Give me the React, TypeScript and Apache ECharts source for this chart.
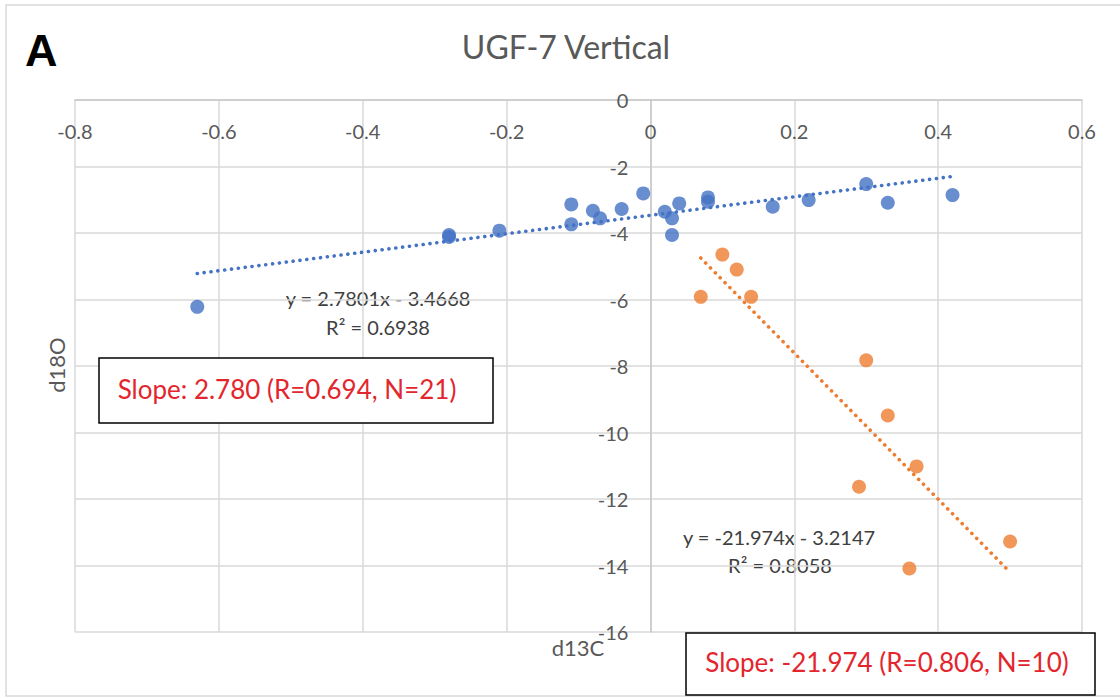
import React, { useEffect, useRef } from "react";
import * as echarts from "echarts";

// d13C / d18O measurements, two groups
const blueX = [-0.63, -0.28, -0.28, -0.21, -0.11, -0.11, -0.08, -0.07, -0.04, -0.01, 0.02, 0.03, 0.03, 0.04, 0.08, 0.08, 0.17, 0.22, 0.3, 0.33, 0.42];
const blueY = [-6.22, -4.06, -4.12, -3.93, -3.14, -3.74, -3.33, -3.56, -3.28, -2.81, -3.36, -3.56, -4.06, -3.11, -2.93, -3.06, -3.21, -3.01, -2.53, -3.09, -2.86];
const orangeX = [0.07, 0.1, 0.12, 0.14, 0.3, 0.33, 0.37, 0.29, 0.5, 0.36];
const orangeY = [-5.92, -4.65, -5.1, -5.92, -7.83, -9.49, -11.02, -11.63, -13.28, -14.09];

// linear fits (slope, intercept, R²) for the two groups
const fitSlopes = [2.7801, -21.974];
const fitIntercepts = [-3.4668, -3.2147];
const fitR2 = [0.6938, 0.8058];

const X_MIN = -0.8;
const X_MAX = 0.6;
const X_STEP = 0.2;
const Y_MIN = -16;
const Y_MAX = 0;
const Y_STEP = 2;

const W = 1120;
const H = 698;
const GRID = { left: 75, right: 38, top: 100, bottom: 66 };

const BLUE = "#4472C4";
const ORANGE = "#ED7D31";
const RED = "#e3262d";
const FONT = "Lato, 'Open Sans', sans-serif";

const pairs = (xs: number[], ys: number[]) => xs.map((x, i) => [x, ys[i]]);

const trend = (xs: number[], k: number) => {
  const lo = Math.min(...xs);
  const hi = Math.max(...xs);
  return [
    [lo, fitSlopes[k] * lo + fitIntercepts[k]],
    [hi, fitSlopes[k] * hi + fitIntercepts[k]],
  ];
};

const eqText = (k: number) =>
  `y = ${fitSlopes[k]}x ${fitIntercepts[k] < 0 ? "-" : "+"} ${Math.abs(fitIntercepts[k])}`;
const r2Text = (k: number) => `R² = ${fitR2[k]}`;
const slopeText = (k: number, n: number) =>
  `Slope: ${fitSlopes[k].toFixed(3)} (R=${fitR2[k].toFixed(3)}, N=${n})`;

export default function App() {
  const ref = useRef<HTMLDivElement>(null);

  useEffect(() => {
    if (!ref.current) return;
    const chart = echarts.init(ref.current, undefined, { renderer: "svg" });
    const dotted = { type: [0.1, 6.8] as number[], cap: "round" as const, width: 3.6 };

    // the vertical axis crosses the horizontal one at x = 0
    const gridWidth = W - GRID.left - GRID.right;
    const yAxisShift = (gridWidth * (0 - X_MIN)) / (X_MAX - X_MIN);

    chart.setOption({
      animation: false,
      backgroundColor: "#ffffff",
      grid: { ...GRID, containLabel: false },
      xAxis: {
        type: "value",
        position: "top",
        min: X_MIN,
        max: X_MAX,
        interval: X_STEP,
        axisLine: { onZero: false, lineStyle: { color: "#c9c9c9", width: 1.5 } },
        axisTick: { show: false },
        axisLabel: {
          inside: true,
          color: "#595959",
          fontSize: 20,
          fontFamily: FONT,
          margin: 21,
          formatter: (v: number) => String(Math.round(v * 10) / 10),
        },
        splitLine: { show: true, lineStyle: { color: "#d9d9d9", width: 1.5 } },
      },
      yAxis: {
        type: "value",
        position: "left",
        offset: -yAxisShift,
        min: Y_MIN,
        max: Y_MAX,
        interval: Y_STEP,
        axisLine: { onZero: false, lineStyle: { color: "#c9c9c9", width: 1.5 } },
        axisTick: { show: false },
        axisLabel: {
          color: "#595959",
          fontSize: 20,
          fontFamily: FONT,
          margin: 22,
        },
        splitLine: { show: true, lineStyle: { color: "#d9d9d9", width: 1.5 } },
      },
      series: [
        {
          type: "scatter",
          data: pairs(blueX, blueY),
          symbolSize: 14,
          itemStyle: { color: BLUE },
          silent: true,
          z: 3,
        },
        {
          type: "scatter",
          data: pairs(orangeX, orangeY),
          symbolSize: 14,
          itemStyle: { color: ORANGE },
          silent: true,
          z: 3,
        },
        {
          type: "line",
          data: trend(blueX, 0),
          showSymbol: false,
          symbol: "none",
          lineStyle: { ...dotted, color: BLUE },
          silent: true,
          z: 4,
        },
        {
          type: "line",
          data: trend(orangeX, 1),
          showSymbol: false,
          symbol: "none",
          lineStyle: { ...dotted, color: ORANGE },
          silent: true,
          z: 4,
        },
      ],
      graphic: [
        // chart frame
        {
          type: "rect",
          shape: { x: 6, y: 5, width: 1200, height: 691 },
          style: { fill: "none", stroke: "#d9d9d9", lineWidth: 1.5 },
          silent: true,
          z: 0,
        },
        {
          type: "text",
          left: 25,
          top: 28,
          style: { text: "A", font: "bold 45px 'Liberation Sans', Arial, sans-serif", fill: "#000000" },
        },
        {
          type: "text",
          x: 566,
          y: 46,
          style: {
            text: "UGF-7 Vertical",
            font: `32px ${FONT}`,
            fill: "#595959",
            align: "center",
            verticalAlign: "middle",
          },
        },
        {
          type: "text",
          x: 56,
          y: 365,
          rotation: Math.PI / 2,
          style: {
            text: "d18O",
            font: `22px ${FONT}`,
            fill: "#595959",
            align: "center",
            verticalAlign: "middle",
          },
        },
        {
          type: "text",
          x: 578,
          y: 647,
          style: {
            text: "d13C",
            font: `22px ${FONT}`,
            fill: "#595959",
            align: "center",
            verticalAlign: "middle",
          },
        },
        // trendline equations
        {
          type: "text",
          x: 378,
          y: 298,
          style: { text: eqText(0), font: `20px ${FONT}`, fill: "#404040", align: "center", verticalAlign: "middle" },
        },
        {
          type: "text",
          x: 378,
          y: 327,
          style: { text: r2Text(0), font: `20px ${FONT}`, fill: "#404040", align: "center", verticalAlign: "middle" },
        },
        {
          type: "text",
          x: 779,
          y: 537,
          style: { text: eqText(1), font: `20px ${FONT}`, fill: "#404040", align: "center", verticalAlign: "middle" },
        },
        {
          type: "text",
          x: 780,
          y: 565,
          style: { text: r2Text(1), font: `20px ${FONT}`, fill: "#404040", align: "center", verticalAlign: "middle" },
        },
        // slope summary boxes
        {
          type: "rect",
          shape: { x: 99, y: 358, width: 394, height: 65 },
          style: { fill: "#ffffff", stroke: "#000000", lineWidth: 1.5 },
          z: 10,
        },
        {
          type: "text",
          x: 287,
          y: 389,
          z: 11,
          style: { text: slopeText(0, blueX.length), font: `26px ${FONT}`, fill: RED, align: "center", verticalAlign: "middle" },
        },
        {
          type: "rect",
          shape: { x: 686, y: 633, width: 409, height: 62 },
          style: { fill: "#ffffff", stroke: "#000000", lineWidth: 1.5 },
          z: 10,
        },
        {
          type: "text",
          x: 887,
          y: 662,
          z: 11,
          style: { text: slopeText(1, orangeX.length), font: `26px ${FONT}`, fill: RED, align: "center", verticalAlign: "middle" },
        },
      ],
    });

    return () => chart.dispose();
  }, []);

  return (
    <div
      ref={ref}
      style={{ position: "fixed", left: 0, top: 0, width: W, height: H, background: "#fff" }}
    />
  );
}
